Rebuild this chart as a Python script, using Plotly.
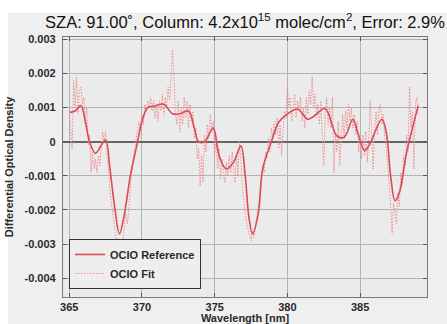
import plotly.graph_objects as go

# Smooth OClO reference cross-section (wavelength nm, differential OD)
ref_wl = [365.05, 365.4, 365.8, 366.1, 366.4, 366.8, 367.2, 367.5, 367.8, 368.15,
          368.45, 368.8, 369.2, 369.7, 370.0, 370.4, 370.9, 371.5, 372.1, 372.6,
          373.2, 373.6, 373.9, 374.3, 374.9, 375.3, 375.8, 376.3, 376.8, 377.1,
          377.35, 377.6, 378.0, 378.3, 378.9, 379.4, 379.9, 380.7, 381.4, 381.8,
          382.6, 383.4, 383.9, 384.5, 384.8, 385.3, 385.6, 386.5, 386.8, 387.1,
          387.4, 387.7, 388.2, 389.0]
ref_od = [0.00086, 0.00090, 0.00106, 0.00060, 0.00000, -0.00034, -0.00010, 0.00005, -0.00080, -0.00200,
          -0.00270, -0.00210, -0.00100, 0.00000, 0.00060, 0.00100, 0.00105, 0.00110, 0.00082, 0.00082,
          0.00090, 0.00040, 0.00000, 0.00000, 0.00040, -0.00040, -0.00080, -0.00060, -0.00012, -0.00100,
          -0.00220, -0.00270, -0.00210, -0.00080, 0.00000, 0.00057, 0.00078, 0.00096, 0.00066, 0.00074,
          0.00097, 0.00017, 0.00013, 0.00066, 0.00032, -0.00026, -0.00012, 0.00066, 0.00027, -0.00100,
          -0.00173, -0.00149, -0.00031, 0.00106]

# Fitted spectrum sampled every 0.1 nm starting at 365.0 nm
fit_start = 365.0
fit_step = 0.1
fit_od = [
    0.0009, 0.0002, -0.0002, 0.0018, 0.0010, 0.0019, 0.0008, 0.0015, 0.0016, 0.0011,   # 365
    0.0013, 0.0006, 0.0010, -0.0001, 0.0002, -0.0009, -0.0003, -0.0008, -0.0005, -0.0009,  # 366
    -0.0004, -0.0007, -0.0002, 0.0003, 0.0000, 0.0003, -0.0003, -0.0010, -0.0014, -0.0018,  # 367
    -0.0021, -0.0024, -0.0027, -0.0031, -0.0034, -0.0030, -0.0033, -0.0028, -0.0025, -0.0021,  # 368
    -0.0024, -0.0020, -0.0013, -0.0008, -0.0005, -0.0002, 0.0001, 0.0004, 0.0006, 0.0003,  # 369
    0.0008, 0.0005, 0.0011, 0.0009, 0.0012, 0.0010, 0.0013, 0.0009, 0.0012, 0.0007,   # 370
    0.0011, 0.0006, 0.0012, 0.0009, 0.0014, 0.0008, 0.0013, 0.0010, 0.0016, 0.0012,   # 371
    0.0021, 0.0027, 0.0019, 0.0008, 0.0005, 0.0012, 0.0003, 0.0010, 0.0005, 0.0013,   # 372
    0.0007, 0.0012, 0.0004, 0.0011, 0.0006, 0.0009, 0.0001, 0.0004, -0.0005, -0.0002,  # 373
    -0.0013, -0.0004, -0.0012, 0.0002, -0.0003, 0.0005, 0.0001, 0.0008, 0.0003, 0.0006,  # 374
    -0.0004, 0.0001, -0.0008, -0.0002, -0.0011, -0.0005, -0.0009, -0.0012, -0.0006, -0.0010,  # 375
    -0.0004, -0.0009, -0.0003, -0.0008, -0.0012, -0.0004, -0.0010, 0.0000, -0.0005, -0.0013,  # 376
    -0.0018, -0.0021, -0.0024, -0.0026, -0.0028, -0.0029, -0.0026, -0.0028, -0.0025, -0.0022,  # 377
    -0.0019, -0.0016, -0.0011, -0.0007, -0.0009, -0.0003, -0.0005, 0.0001, -0.0003, 0.0004,  # 378
    0.0001, 0.0006, 0.0002, 0.0007, -0.0002, 0.0005, -0.0004, 0.0003, 0.0009, 0.0007,   # 379
    0.0016, 0.0010, 0.0013, 0.0006, 0.0011, 0.0014, 0.0007, 0.0012, 0.0009, 0.0013,   # 380
    0.0006, 0.0010, 0.0004, 0.0013, 0.0008, 0.0015, 0.0011, 0.0019, 0.0010, 0.0014,   # 381
    0.0007, 0.0011, 0.0005, 0.0012, 0.0001, -0.0007, 0.0008, 0.0013, 0.0005, 0.0010,  # 382
    0.0004, 0.0013, -0.0009, 0.0002, -0.0003, 0.0006, -0.0007, 0.0003, 0.0008, 0.0001,  # 383
    0.0009, 0.0004, 0.0011, 0.0006, 0.0010, 0.0004, 0.0008, 0.0002, 0.0006, -0.0003,  # 384
    0.0001, -0.0005, 0.0002, -0.0004, 0.0003, -0.0006, 0.0001, 0.0012, 0.0003, -0.0008,  # 385
    0.0004, 0.0009, 0.0002, 0.0010, 0.0011, 0.0005, 0.0008, 0.0001, -0.0002, -0.0006,  # 386
    -0.0012, -0.0019, -0.0027, -0.0018, -0.0022, -0.0024, -0.0015, -0.0019, -0.0009, -0.0013,  # 387
    -0.0004, -0.0007, 0.0002, -0.0003, 0.0016, 0.0004, 0.0009, -0.0008, 0.0011, 0.0013,  # 388
    0.0008,  # 389
]

x_ticks = [365, 370, 375, 380, 385]
x_ticktext = ["365", "370", "375", "380", "385"]
y_ticks = [-0.004, -0.003, -0.002, -0.001, 0, 0.001, 0.002, 0.003]
y_ticktext = ["-0.004", "-0.003", "-0.002", "-0.001", "0", "0.001", "0.002", "0.003"]

title_text = ("SZA: 91.00\u02da, Column: 4.2x10<sup>15</sup> molec/cm<sup>2</sup>, "
              "Error: 2.9%")

FONT = "Liberation Sans, Arial, sans-serif"
LABEL_FONT = dict(family=FONT, size=11, color="#2a2a2a", weight="bold")

fig = go.Figure()
fig.add_trace(go.Scatter(
    y=fit_od, x0=fit_start, dx=fit_step, mode="lines", name="OCIO Fit",
    line=dict(color="#ef8c92", width=1, dash="1.5px,1.5px"),
))
fig.add_trace(go.Scatter(
    x=ref_wl, y=ref_od, mode="lines", name="OCIO Reference",
    line=dict(color="#dc4a55", width=1.6, shape="spline", smoothing=1.0),
))

axis_common = dict(
    showline=True, linecolor="#7a7a7a", linewidth=1.2, mirror="ticks",
    ticks="inside", ticklen=4, tickcolor="#555555", tickwidth=1,
    showgrid=True, gridcolor="#b2b2b2", gridwidth=1,
    tickfont=LABEL_FONT, automargin=False,
)

fig.update_layout(
    width=447, height=324,
    margin=dict(l=63, r=20, t=37, b=27),
    paper_bgcolor="#efefef", plot_bgcolor="#ebebeb",
    font=dict(family=FONT, color="#111111"),
    title=dict(text=title_text, x=0.5, xref="paper", xanchor="center",
               y=1 - 22 / 324, yref="container", yanchor="middle",
               font=dict(family=FONT, size=16.5, color="#111111")),
    xaxis=dict(range=[364.57, 389.6], tickvals=x_ticks, ticktext=x_ticktext,
               zeroline=False,
               title=dict(text="Wavelength [nm]", standoff=2, font=LABEL_FONT),
               **axis_common),
    yaxis=dict(range=[-0.00455, 0.00307], tickvals=y_ticks, ticktext=y_ticktext,
               zeroline=True, zerolinecolor="#666666", zerolinewidth=2,
               ticklabelstandoff=4,
               title=dict(text="Differential Optical Density", standoff=8,
                          font=LABEL_FONT),
               **axis_common),
    showlegend=True,
    legend=dict(x=0.0165, y=0.031, xanchor="left", yanchor="bottom",
                bgcolor="#eeeeee", bordercolor="#333333", borderwidth=1,
                traceorder="reversed", itemwidth=30, tracegroupgap=0,
                font=LABEL_FONT),
    shapes=[
        dict(type="rect", xref="paper", yref="paper", x0=-0.3, x1=1.3,
             y0=1 + (37 - 12.7) / 260, y1=1.3, fillcolor="white",
             line=dict(width=0), layer="below"),
        dict(type="rect", xref="paper", yref="paper", x0=-0.3, x1=(8 - 63) / 364,
             y0=-0.3, y1=1.3, fillcolor="white", line=dict(width=0), layer="below"),
    ],
)

fig.write_html("out.html")
